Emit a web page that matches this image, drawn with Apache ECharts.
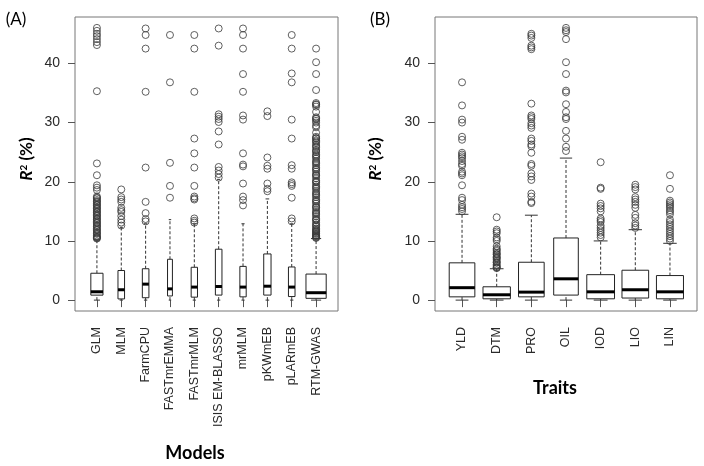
<!DOCTYPE html>
<html><head><meta charset="utf-8">
<script src="https://cdn.jsdelivr.net/npm/echarts@6/dist/echarts.min.js"></script>
<style>html,body{margin:0;padding:0;background:#fff}#c{width:704px;height:466px}</style>
</head><body><div id="c"></div>
<script>
// ---------- Panel A: models ----------
const models = ['GLM','MLM','FarmCPU','FASTmrEMMA','FASTmrMLM','ISIS EM-BLASSO','mrMLM','pKWmEB','pLARmEB','RTM-GWAS'];
// [lower whisker, Q1, median, Q3, upper whisker]
const modelStats = [
  [0, 0.84, 1.41, 4.54, 10.2],
  [0, 0.20, 1.75, 5.00, 12.3],
  [0, 0.40, 2.70, 5.30, 12.9],
  [0, 0.70, 1.90, 6.90, 13.6],
  [0, 0.50, 2.20, 5.55, 12.9],
  [0, 0.85, 2.30, 8.60, 20.4],
  [0, 0.55, 2.20, 5.70, 12.9],
  [0, 0.85, 2.35, 7.80, 17.1],
  [0, 0.60, 2.20, 5.60, 12.9],
  [0, 0.30, 1.25, 4.40, 10.4]
];
// relative box widths (varwidth ~ sqrt(n)), in category units
const modelWidths = [0.50, 0.27, 0.27, 0.20, 0.26, 0.27, 0.26, 0.30, 0.27, 0.83];
const modelOutliers = [
  [46.0,45.5,45.0,44.6,44.1,43.6,43.1,35.3,23.1,21.1,19.4,19.0,18.6,17.5,17.3,17.2,16.9,16.7,16.6,16.3,16.1,16.0,15.7,15.5,15.4,15.1,14.9,14.8,14.5,14.3,14.2,13.9,13.7,13.6,13.3,13.1,13.0,12.7,12.5,12.4,12.1,11.9,11.8,11.5,11.3,11.2,10.9,10.7,10.6,10.5,10.4],
  [18.7,17.4,17.0,16.6,15.6,15.2,14.9,14.2,13.6,13.1,12.6],
  [45.9,44.8,42.5,35.2,22.4,16.6,14.7,13.7,13.3],
  [44.8,36.8,23.2,19.3,17.3],
  [44.8,42.5,35.2,27.3,24.8,22.4,19.3,17.5,17.2,17.0,13.8,13.4,13.1],
  [45.9,43.0,31.4,31.0,30.6,30.1,28.5,26.3,22.5,21.9,21.3,20.7],
  [45.9,44.8,42.5,38.2,35.2,31.2,30.5,24.8,22.9,22.6,19.7,17.5,16.9,16.0],
  [31.9,31.1,24.1,22.7,22.2,19.7,18.8,18.4],
  [44.8,42.5,38.3,36.8,30.5,27.3,22.8,22.2,19.9,19.6,19.3,17.3,13.8,13.3],
  [42.5,40.2,38.2,35.5,33.3,33.1,33.0,32.7,31.8,30.9,30.7,30.6,30.3,30.0,29.5,29.2,28.3,27.6,27.4,27.3,27.0,26.8,26.6,26.2,26.0,25.8,25.4,25.2,25.0,24.6,24.4,24.2,23.9,23.5,23.3,23.1,22.8,22.4,22.2,22.0,21.7,21.3,21.1,21.0,20.6,20.2,20.0,19.9,19.5,19.2,19.0,18.8,18.4,18.1,17.9,17.7,17.4,17.0,16.8,16.6,16.3,15.9,15.7,15.6,15.2,14.9,14.7,14.5,14.2,13.8,13.6,13.5,13.1,12.8,12.6,12.4,12.1,11.9,11.8,11.6,11.5,11.3,11.2,11.0,10.9,10.8,10.7,10.6,10.5]
];

// ---------- Panel B: traits ----------
const traits = ['YLD','DTM','PRO','OIL','IOD','LIO','LIN'];
const traitStats = [
  [0, 0.55, 2.10, 6.30, 14.5],
  [0, 0.22, 0.90, 2.25, 5.3],
  [0, 0.55, 1.35, 6.40, 14.35],
  [0, 0.85, 3.60, 10.50, 24.0],
  [0, 0.22, 1.40, 4.30, 10.0],
  [0, 0.35, 1.75, 5.05, 11.9],
  [0, 0.22, 1.40, 4.15, 9.6]
];
const traitWidths = [0.74, 0.79, 0.74, 0.71, 0.80, 0.77, 0.78];
const traitOutliers = [
  [36.8,32.9,30.5,30.0,27.6,27.1,24.9,24.6,24.3,24.0,23.5,23.0,22.7,21.7,21.4,21.1,19.4,17.3,16.9,16.1,15.7,15.4,15.0],
  [14.0,11.9,11.6,11.3,10.6,10.3,10.0,9.1,8.7,8.5,8.3,8.0,7.8,7.7,7.4,7.2,7.1,6.9,6.6,6.4,6.3,6.0,5.8,5.6,5.5,5.4],
  [45.0,44.7,44.3,43.0,42.7,42.4,33.2,31.2,30.9,30.6,29.9,29.5,29.1,27.3,26.9,26.3,26.0,24.9,23.0,22.7,21.4,20.9,20.3,18.0,17.5,16.6,16.4],
  [46.0,45.6,45.3,44.1,40.2,38.2,35.4,35.1,33.1,31.8,30.9,30.6,28.6,27.3,25.9,25.2],
  [23.3,19.0,18.8,16.3,15.9,15.5,15.0,13.8,13.5,13.2,12.6,12.2,11.8,11.4,11.0,10.6],
  [19.5,19.1,18.7,17.4,17.0,16.6,16.1,15.6,14.4,13.9,13.0,12.6,12.2],
  [21.1,18.8,16.8,16.5,16.2,15.9,15.6,15.2,14.9,14.5,13.6,13.2,12.8,12.4,12.0,11.6,11.2,10.8,10.4,10.0]
];

const yTicks = [0, 10, 20, 30, 40];

function boxSeries(idx, stats, widths) {
  return {
    type: 'custom', xAxisIndex: idx, yAxisIndex: idx, z: 2,
    data: stats.map((s, i) => [i + 1].concat(s, [widths[i]])),
    renderItem: function (params, api) {
      const x = api.value(0);
      const lo = api.coord([x, api.value(1)]);
      const q1 = api.coord([x, api.value(2)]);
      const md = api.coord([x, api.value(3)]);
      const q3 = api.coord([x, api.value(4)]);
      const hi = api.coord([x, api.value(5)]);
      const w = api.size([api.value(6), 0])[0];
      const cx = lo[0], hw = w / 2, sw = w / 4;
      const dash = {stroke: '#333', lineWidth: 1, lineDash: [3, 2]};
      const solid = {stroke: '#333', lineWidth: 1};
      return {type: 'group', children: [
        {type: 'line', shape: {x1: cx, y1: q3[1], x2: cx, y2: hi[1]}, style: dash},
        {type: 'line', shape: {x1: cx, y1: lo[1], x2: cx, y2: q1[1]}, style: dash},
        {type: 'line', shape: {x1: cx - sw, y1: hi[1], x2: cx + sw, y2: hi[1]}, style: solid},
        {type: 'line', shape: {x1: cx - sw, y1: lo[1], x2: cx + sw, y2: lo[1]}, style: solid},
        {type: 'rect', shape: {x: cx - hw, y: q3[1], width: w, height: q1[1] - q3[1]}, style: {fill: '#fff', stroke: '#222', lineWidth: 1}},
        {type: 'line', shape: {x1: cx - hw, y1: md[1], x2: cx + hw, y2: md[1]}, style: {stroke: '#000', lineWidth: 3}}
      ]};
    }
  };
}
function outlierSeries(idx, outs) {
  const pts = [];
  outs.forEach((arr, i) => arr.forEach(v => pts.push([i + 1, v])));
  return {
    type: 'scatter', xAxisIndex: idx, yAxisIndex: idx, z: 3,
    symbol: 'circle', symbolSize: 7, data: pts,
    itemStyle: {color: 'rgba(0,0,0,0)', borderColor: '#3a3a3a', borderWidth: 1},
    emphasis: {disabled: true}
  };
}
function xAxis(idx, cats) {
  const n = cats.length;
  const ext = n * 0.04;
  const vals = cats.map((c, i) => i + 1);
  return {
    type: 'value', gridIndex: idx, min: 0.5 - ext, max: n + 0.5 + ext,
    splitLine: {show: false}, axisLine: {show: false},
    axisTick: {show: true, length: 7, inside: false, customValues: vals, lineStyle: {color: '#555'}},
    axisLabel: {show: true, rotate: 90, margin: 16, fontSize: 12.5, color: '#2a2a2a', fontFamily: 'Liberation Sans, Arial, sans-serif',
      customValues: vals, formatter: v => cats[Math.round(v) - 1] || ''}
  };
}
function yAxis(idx) {
  return {
    type: 'value', gridIndex: idx, min: -1.84, max: 47.84,
    splitLine: {show: false}, axisLine: {show: false},
    axisTick: {show: true, length: 7, inside: false, customValues: yTicks, lineStyle: {color: '#555'}},
    axisLabel: {show: true, margin: 15, fontSize: 14, color: '#2a2a2a', fontFamily: 'Liberation Sans, Arial, sans-serif',
      customValues: yTicks}
  };
}
const rTitleRich = {
  r: {fontStyle: 'italic', fontWeight: 'bold', fontSize: 17, fontFamily: 'Lato, sans-serif', fill: '#000'},
  s: {fontWeight: 'bold', fontSize: 10, fontFamily: 'Lato, sans-serif', verticalAlign: 'top', fill: '#000'},
  n: {fontWeight: 'bold', fontSize: 17, fontFamily: 'Lato, sans-serif', fill: '#000'}
};
function rTitle(x, y) {
  return {type: 'text', x: x, y: y, rotation: Math.PI / 2,
    style: {text: '{r|R}{s|2}{n| (%)}', rich: rTitleRich, textAlign: 'center', textVerticalAlign: 'middle'}};
}
function plainText(x, y, t, font) {
  return {type: 'text', x: x, y: y, style: {text: t, font: font, fill: '#000', textAlign: 'center', textVerticalAlign: 'middle'}};
}

const chart = echarts.init(document.getElementById('c'), null, {renderer: 'canvas'});
chart.setOption({
  animation: false,
  backgroundColor: '#fff',
  grid: [
    {left: 75, top: 17, width: 263, height: 294, show: true, borderColor: '#777', borderWidth: 1, backgroundColor: 'transparent'},
    {left: 435, top: 17, width: 262, height: 294, show: true, borderColor: '#777', borderWidth: 1, backgroundColor: 'transparent'}
  ],
  xAxis: [xAxis(0, models), xAxis(1, traits)],
  yAxis: [yAxis(0), yAxis(1)],
  series: [
    boxSeries(0, modelStats, modelWidths),
    outlierSeries(0, modelOutliers),
    boxSeries(1, traitStats, traitWidths),
    outlierSeries(1, traitOutliers)
  ],
  graphic: [
    rTitle(27, 159),
    rTitle(376, 159),
    plainText(16, 20, '(A)', '17px Lato, sans-serif'),
    plainText(380, 20, '(B)', '17px Lato, sans-serif'),
    plainText(195, 453, 'Models', 'bold 18px Lato, sans-serif'),
    plainText(555, 388, 'Traits', 'bold 18px Lato, sans-serif')
  ]
});
</script>
</body></html>
